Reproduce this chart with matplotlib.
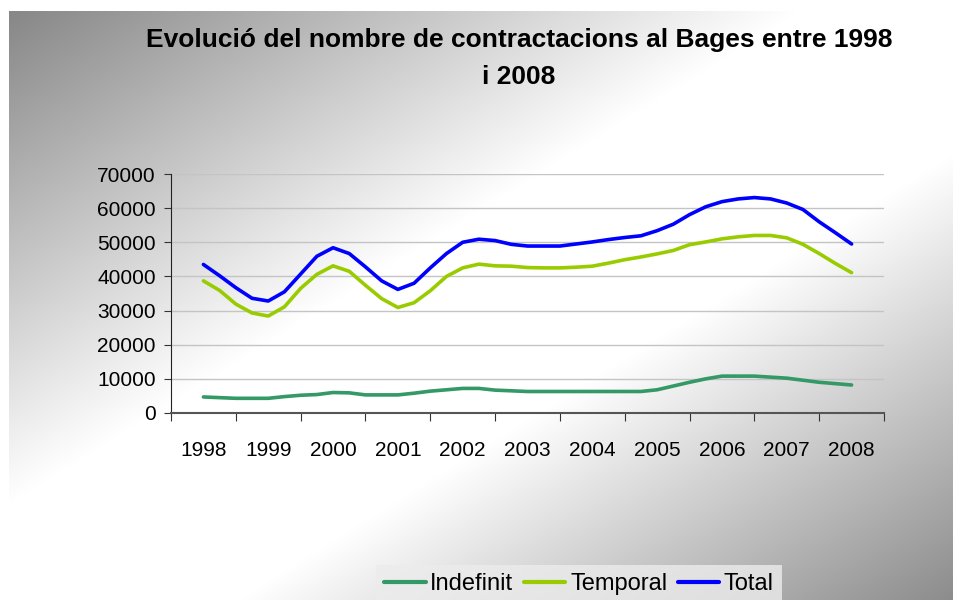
import matplotlib
matplotlib.use("Agg")
import matplotlib.pyplot as plt
import numpy as np

# quarterly readings, 1998 -> 2008
periods = np.arange(1998, 2008.01, 0.25)
years = list(range(1998, 2009))

indefinit = [4700, 4500, 4300, 4300, 4300, 4800, 5200, 5400, 6000, 5900,
             5300, 5300, 5300, 5800, 6400, 6800, 7200, 7200, 6700, 6500,
             6300, 6300, 6300, 6300, 6300, 6300, 6300, 6300, 6800, 7900,
             9000, 10000, 10800, 10800, 10800, 10500, 10200, 9600, 9000, 8600,
             8200]
temporal = [38700, 35900, 31900, 29300, 28400, 31100, 36500, 40600, 43100, 41500,
            37400, 33500, 30900, 32300, 35800, 40000, 42500, 43600, 43100, 43000,
            42600, 42500, 42500, 42700, 43000, 43900, 44900, 45700, 46600, 47600,
            49300, 50100, 51000, 51600, 52000, 52000, 51300, 49400, 46700, 43800,
            41100]
total = [43500, 40200, 36700, 33600, 32800, 35500, 40700, 45900, 48400, 46700,
         42800, 38700, 36200, 38000, 42500, 46700, 50000, 50900, 50500, 49400,
         48900, 48900, 48900, 49500, 50100, 50800, 51400, 51900, 53400, 55300,
         58100, 60400, 61900, 62700, 63100, 62700, 61500, 59600, 56000, 52800,
         49500]

series = [("Indefinit", indefinit, "#339966"),
          ("Temporal", temporal, "#99cc00"),
          ("Total", total, "#0000ff")]

plt.rcParams['font.family'] = ['Liberation Sans', 'DejaVu Sans']

W, H = 954, 600
fig = plt.figure(figsize=(W / 100, H / 100), dpi=100)
fig.patch.set_facecolor("white")

# diagonal grey -> white -> grey background
bg = fig.add_axes([9 / W, 0, 1 - 9 / W, 1 - 11 / H], zorder=-10)
gx, gy = np.meshgrid(np.linspace(0, 1, 400), np.linspace(0, 1, 300))
u = (gx + gy) / 2
shade = np.interp(u, [0, 0.42, 0.62, 1.0], [0.53, 1.0, 1.0, 0.55])
bg.imshow(shade, cmap="gray", vmin=0, vmax=1, aspect="auto", interpolation="bilinear")
bg.axis("off")

ax = fig.add_axes([171 / W, 1 - 413 / H, (884 - 171) / W, (413 - 174) / H])
ax.patch.set_alpha(0)

for name, vals, col in series:
    ax.plot(periods, vals, color=col, lw=2.6, label=name,
            solid_joinstyle="round", solid_capstyle="round")

ax.set_xlim(1997.5, 2008.5)
ax.set_ylim(0, 70000)
ax.set_yticks(range(0, 70001, 10000))
ax.yaxis.grid(True, color="#c4c4c4", lw=1)
ax.set_axisbelow(True)

ax.set_xticks(np.arange(1997.5, 2008.6, 1.0))
ax.set_xticklabels([])
ax.set_xticks(years, minor=True)
ax.set_xticklabels([str(y) for y in years], minor=True)
ax.tick_params(axis="x", which="major", length=6, direction="out", color="#333333")
ax.tick_params(axis="x", which="minor", length=0, pad=20, labelsize=15)
ax.tick_params(axis="y", length=5, direction="out", pad=6, labelsize=15, color="#333333")

for s in ("top", "right"):
    ax.spines[s].set_visible(False)
ax.spines["left"].set_color("#222222")
ax.spines["bottom"].set_color("#555555")
ax.spines["bottom"].set_linewidth(1.5)

fig.text(519 / W, 1 - 40 / H, "Evolució del nombre de contractacions al Bages entre 1998",
         ha="center", va="center", fontsize=19, fontweight="bold")
fig.text(519 / W, 1 - 77 / H, "i 2008",
         ha="center", va="center", fontsize=19, fontweight="bold")

leg = fig.legend(loc="upper left", bbox_to_anchor=(376 / W, 1 - 565 / H), ncol=3,
                 frameon=True, fancybox=False, fontsize=17, handlelength=1.75,
                 handletextpad=0.2, columnspacing=0.45, borderpad=0.35,
                 borderaxespad=0)
leg.get_frame().set_facecolor("#ececec")
leg.get_frame().set_edgecolor("none")
for line in leg.get_lines():
    line.set_linewidth(3)

fig.savefig("out.png", dpi=100)
